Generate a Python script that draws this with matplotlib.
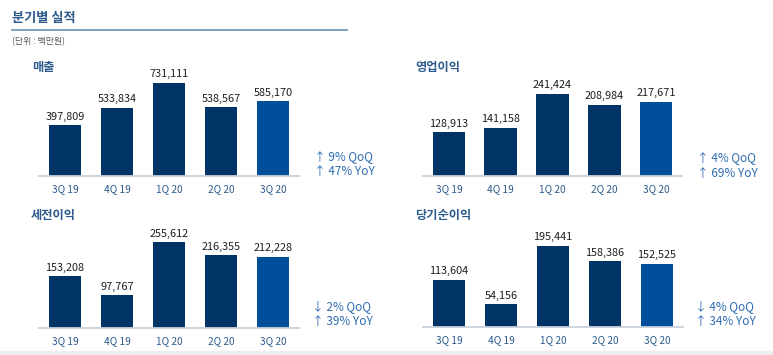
import matplotlib
matplotlib.use("Agg")
import matplotlib.pyplot as plt
from matplotlib.lines import Line2D

plt.rcParams['font.family'] = ['Noto Sans CJK KR', 'DejaVu Sans']

W, H = 773, 355

quarters = ["3Q 19", "4Q 19", "1Q 20", "2Q 20", "3Q 20"]
revenue = [397809, 533834, 731111, 538567, 585170]
op_income = [128913, 141158, 241424, 208984, 217671]
pretax_income = [153208, 97767, 255612, 216355, 212228]
net_income = [113604, 54156, 195441, 158386, 152525]

panel_titles = ["매출", "영업이익", "세전이익", "당기순이익"]
qoq_lines = ["↑ 9% QoQ", "↑ 4% QoQ", "↓ 2% QoQ", "↓ 4% QoQ"]
yoy_lines = ["↑ 47% YoY", "↑ 69% YoY", "↑ 39% YoY", "↑ 34% YoY"]
series = [revenue, op_income, pretax_income, net_income]

fig = plt.figure(figsize=(W / 100, H / 100), dpi=100)
fig.patch.set_facecolor("white")

def fx(x):
    return x / W

def fy(y):
    return 1 - y / H

title_col = "#2c5a8c"
bar_col = "#003366"
last_col = "#014f9a"
ann_col = "#2f6cb3"

# header
fig.text(fx(12), fy(18), "분기별 실적", fontsize=9.5, fontweight="bold",
         color=title_col, va="center", ha="left")
fig.add_artist(Line2D([fx(12), fx(347)], [fy(29.5), fy(29.5)],
                      color="#6a8db5", lw=1.2, transform=fig.transFigure))
fig.text(fx(12), fy(42), "(단위 : 백만원)", fontsize=6.4, color="#555555",
         va="center", ha="left")
# bottom gray strip
fig.add_artist(Line2D([0, 1], [fy(353), fy(353)], color="#eeeeee", lw=3,
                      transform=fig.transFigure))

# layout in pixels: (left, right, baseline, title_x, title_y, ann_x, ann_y1, ann_y2, px_for_max)
layout = [
    (39, 299, 176, 32, 68, 314, 158, 172, 93.3),
    (423, 682, 176, 415, 68, 697, 159, 173, 82.4),
    (39, 299, 328, 31, 215, 312, 307, 321, 86.0),
    (423, 683, 327, 415, 215, 695, 307, 321, 81.3),
]

ax_h = 110
for vals, ttl, q, y, (l, r, base, tx, ty, axx, ay1, ay2, pxmax) in zip(
        series, panel_titles, qoq_lines, yoy_lines, layout):
    ax = fig.add_axes([fx(l), (H - base) / H, (r - l) / W, ax_h / H])
    colors = [bar_col] * (len(vals) - 1) + [last_col]
    xs = range(len(vals))
    bars = ax.bar(xs, vals, width=0.63, color=colors)
    ax.set_xlim(-0.5, len(vals) - 0.5)
    ax.set_ylim(0, max(vals) * ax_h / pxmax)
    for b, v in zip(bars, vals):
        ax.annotate(f"{v:,}", (b.get_x() + b.get_width() / 2, b.get_height()),
                    xytext=(0, 2.5), textcoords="offset points",
                    ha="center", va="bottom", fontsize=7.8, color="#1e1e1e",
                    fontweight="medium")
    ax.set_xticks(list(xs))
    ax.set_xticklabels(quarters, fontsize=7.3, color=title_col)
    ax.tick_params(axis="x", length=0, pad=6)
    ax.set_yticks([])
    for s in ["top", "right", "left"]:
        ax.spines[s].set_visible(False)
    ax.spines["bottom"].set_color("#c9d1dc")
    ax.spines["bottom"].set_linewidth(1.3)
    ax.patch.set_alpha(0)

    fig.text(fx(tx), fy(ty), ttl, fontsize=8.8, fontweight="bold",
             color=title_col, va="center", ha="left")
    fig.text(fx(axx), fy(ay1), q, fontsize=8.5, color=ann_col, va="center", ha="left")
    fig.text(fx(axx), fy(ay2), y, fontsize=8.5, color=ann_col, va="center", ha="left")

fig.savefig("out.png", dpi=100)
